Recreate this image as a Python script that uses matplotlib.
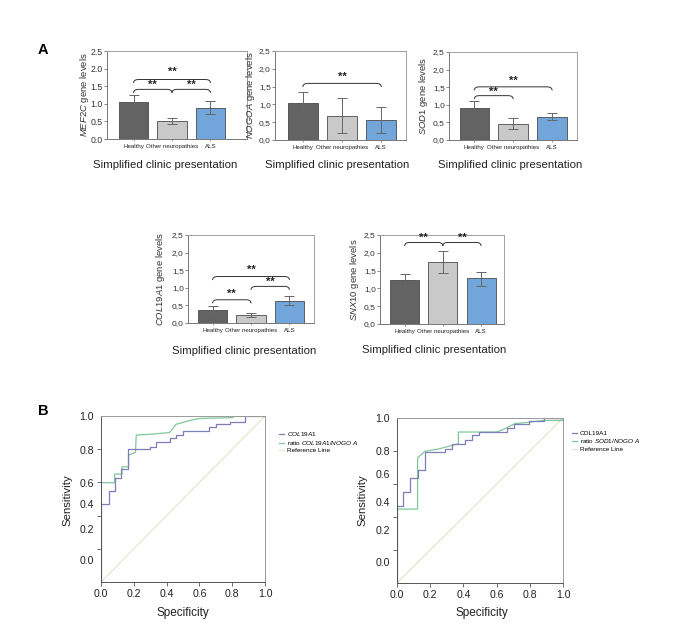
import matplotlib
matplotlib.use("Agg")
import matplotlib.pyplot as plt
from matplotlib.path import Path
from matplotlib.patches import PathPatch

plt.rcParams['font.family'] = ['Liberation Sans', 'DejaVu Sans']
plt.rcParams['mathtext.fontset'] = 'custom'
plt.rcParams['mathtext.it'] = 'Liberation Sans:italic'
plt.rcParams['mathtext.rm'] = 'Liberation Sans'

# ---------------- data ----------------
groups = ["Healthy", "Other neuropathies", "ALS"]
bar_colors = ["#636363", "#c9c9c9", "#72a5d9"]

genes = ["MEF2C", "NOGOA", "SOD1", "COL19A1", "SNX10"]
means = {
    "MEF2C":   [1.05, 0.52, 0.88],
    "NOGOA":   [1.04, 0.68, 0.56],
    "SOD1":    [0.92, 0.46, 0.66],
    "COL19A1": [0.38, 0.22, 0.63],
    "SNX10":   [1.24, 1.74, 1.29],
}
err_lo = {
    "MEF2C":   [0.88, 0.43, 0.70],
    "NOGOA":   [0.75, 0.20, 0.20],
    "SOD1":    [0.75, 0.32, 0.56],
    "COL19A1": [0.28, 0.16, 0.50],
    "SNX10":   [1.07, 1.42, 1.08],
}
err_hi = {
    "MEF2C":   [1.24, 0.61, 1.07],
    "NOGOA":   [1.35, 1.18, 0.93],
    "SOD1":    [1.10, 0.63, 0.78],
    "COL19A1": [0.48, 0.27, 0.77],
    "SNX10":   [1.40, 2.06, 1.47],
}
# significance brackets: (group i, group j, level, star level)
brackets = {
    "MEF2C":   [(0, 1, 1.41, 1.55), (1, 2, 1.41, 1.55), (0, 2, 1.69, 1.91)],
    "NOGOA":   [(0, 2, 1.59, 1.77)],
    "SOD1":    [(0, 1, 1.26, 1.38), (0, 2, 1.51, 1.67)],
    "COL19A1": [(0, 1, 0.66, 0.83), (1, 2, 1.04, 1.18), (0, 2, 1.32, 1.51)],
    "SNX10":   [(0, 1, 2.29, 2.41), (1, 2, 2.29, 2.41)],
}
yticks_bar = [0.0, 0.5, 1.0, 1.5, 2.0, 2.5]
yticklabels_dot = ["0.0", "0.5", "1.0", "1.5", "2.0", "2.5"]
yticklabels_comma = ["0,0", "0,5", "1,0", "1,5", "2,0", "2,5"]

# ROC curves (vertices: x = specificity axis value, y = sensitivity)
roc1_a_x = [0, 0, 0.047, 0.047, 0.083, 0.083, 0.124, 0.124, 0.164, 0.164, 0.296, 0.296,
            0.337, 0.337, 0.418, 0.418, 0.458, 0.458, 0.5, 0.5, 0.66, 0.66, 0.70, 0.70,
            0.787, 0.787, 0.878, 0.878, 1.0]
roc1_a_y = [0, 0.467, 0.467, 0.547, 0.547, 0.628, 0.628, 0.68, 0.68, 0.80, 0.80, 0.815,
            0.815, 0.845, 0.845, 0.865, 0.865, 0.885, 0.885, 0.91, 0.91, 0.935, 0.935, 0.95,
            0.95, 0.965, 0.965, 1.0, 1.0]
roc1_b_x = [0, 0, 0.083, 0.083, 0.128, 0.128, 0.168, 0.168, 0.21, 0.215, 0.30, 0.418,
            0.458, 0.55, 0.60, 0.80, 0.82, 1.0]
roc1_b_y = [0, 0.598, 0.598, 0.65, 0.65, 0.694, 0.694, 0.765, 0.78, 0.885, 0.89, 0.90,
            0.95, 0.975, 0.985, 0.99, 1.0, 1.0]
roc2_a_x = [0, 0, 0.036, 0.036, 0.08, 0.08, 0.124, 0.124, 0.167, 0.167, 0.291, 0.291,
            0.331, 0.331, 0.412, 0.412, 0.452, 0.452, 0.492, 0.492, 0.663, 0.663, 0.703,
            0.703, 0.793, 0.793, 0.884, 0.884, 1.0]
roc2_a_y = [0, 0.465, 0.465, 0.55, 0.55, 0.636, 0.636, 0.687, 0.687, 0.794, 0.794, 0.812,
            0.812, 0.844, 0.844, 0.865, 0.865, 0.90, 0.90, 0.915, 0.915, 0.94, 0.94, 0.966,
            0.966, 0.98, 0.98, 1.0, 1.0]
roc2_b_x = [0, 0, 0.124, 0.124, 0.167, 0.25, 0.37, 0.37, 0.60, 0.64, 0.71, 0.80, 0.88,
            1.0, 1.0]
roc2_b_y = [0, 0.448, 0.448, 0.758, 0.798, 0.812, 0.844, 0.915, 0.915, 0.93, 0.966, 0.975,
            0.985, 0.985, 1.0]
roc_xticks = [0.0, 0.2, 0.4, 0.6, 0.8, 1.0]
roc_ylabels = ["0.0", "0.2", "0.4", "0.6", "0.8", "1.0"]
roc1_ylabel_pos = [0.131, 0.322, 0.467, 0.598, 0.795, 1.0]
roc2_ylabel_pos = [0.127, 0.319, 0.489, 0.663, 0.798, 1.0]

# ---------------- figure ----------------
W, H = 675, 632
fig = plt.figure(figsize=(W / 100, H / 100), dpi=100)


def axes_px(x0, y0, x1, y1):
    return fig.add_axes([x0 / W, 1 - y1 / H, (x1 - x0) / W, (y1 - y0) / H])


def bracket(ax, x1, x2, y, h=0.1, dx=0.13):
    verts = [(x1, y - h), (x1, y), (x1 + dx, y), (x2 - dx, y), (x2, y), (x2, y - h)]
    codes = [Path.MOVETO, Path.CURVE3, Path.CURVE3, Path.LINETO, Path.CURVE3, Path.CURVE3]
    ax.add_patch(PathPatch(Path(verts, codes), fill=False, lw=0.7, color="#333333"))


bar_layout = {
    "MEF2C":   ((107, 51, 247, 139), (-0.69, 2.95), -0.115, 165, 165),
    "NOGOA":   ((275, 51, 406, 140), (-0.71, 2.63), -0.137, 337, 165),
    "SOD1":    ((449, 52, 577, 140), (-0.65, 2.64), -0.148, 510, 165),
    "COL19A1": ((188, 235, 314, 323), (-0.64, 2.64), -0.167, 244, 351),
    "SNX10":   ((380, 235, 504, 324), (-0.645, 2.60), -0.153, 434, 350),
}

for g in genes:
    box, xl, ylx, xlab_x, xlab_y = bar_layout[g]
    ax = axes_px(*box)
    xs = [0, 1, 2]
    m = means[g]
    lo = [mm - l for mm, l in zip(m, err_lo[g])]
    hi = [h - mm for mm, h in zip(m, err_hi[g])]
    ax.bar(xs, m, width=0.76, color=bar_colors, edgecolor="#4a4a4a", linewidth=0.6)
    ax.errorbar(xs, m, yerr=[lo, hi], fmt="none", ecolor="#666666", elinewidth=0.7,
                capsize=3.5, capthick=0.7)
    for (i, j, lev, slev) in brackets[g]:
        bracket(ax, i, j, lev)
        ax.text((i + j) / 2, slev, "**", ha="center", va="center", fontsize=8,
                fontweight="bold", color="#222222")
    ax.set_xlim(*xl)
    ax.set_ylim(0, 2.5)
    ax.set_yticks(yticks_bar)
    ax.set_yticklabels(yticklabels_dot if g == "MEF2C" else yticklabels_comma)
    ax.set_xticks(xs)
    ax.set_xticklabels(groups)
    ax.tick_params(axis="y", labelsize=6.3 if g == "MEF2C" else 6, length=2, width=0.5,
                   pad=1, color="#555555", labelcolor="#333333")
    ax.tick_params(axis="x", labelsize=4.4, length=1.5, width=0.5, pad=2,
                   color="#777777", labelcolor="#222222")
    for s in ax.spines.values():
        s.set_color("#a0a0a0")
        s.set_linewidth(0.7)
    ax.spines["left"].set_color("#777777")
    ax.spines["bottom"].set_color("#777777")
    ax.set_ylabel(r"$\mathit{" + g + r"}$ gene levels", fontsize=6.8, color="#333333")
    ax.yaxis.set_label_coords(ylx, 0.5)
    fig.text(xlab_x / W, 1 - xlab_y / H, "Simplified clinic presentation",
             ha="center", va="center", fontsize=8.2, color="#222222")

fig.text(43 / W, 1 - 50 / H, "A", ha="center", va="center", fontsize=10.5,
         fontweight="bold")
fig.text(43 / W, 1 - 411 / H, "B", ha="center", va="center", fontsize=10.5,
         fontweight="bold")

# ---------------- ROC ----------------
roc_cfg = [
    ((101, 416, 265, 582), roc1_a_x, roc1_a_y, roc1_b_x, roc1_b_y, roc1_ylabel_pos,
     [r"$\mathit{COL19A1}$", r"ratio $\mathit{COL19A1/NOGO\ A}$", "Reference Line"],
     (279, 430), 183, 67),
    ((397, 418, 563, 583), roc2_a_x, roc2_a_y, roc2_b_x, roc2_b_y, roc2_ylabel_pos,
     ["COL19A1", r"ratio $\mathit{SOD1/NOGO\ A}$", "Reference Line"],
     (572, 431), 482, 362),
]
blue = "#7d7db8"
green = "#80c79a"
refc = "#e9e4cc"

for box, ax_x, ax_y, bx, by, ylpos, labels, legpos, xlabx, ylabx in roc_cfg:
    ax = axes_px(*box)
    l3, = ax.plot([0, 1], [0, 1], color=refc, lw=0.9)
    l2, = ax.plot(bx, by, color=green, lw=0.9)
    l1, = ax.plot(ax_x, ax_y, color=blue, lw=0.9)
    ax.set_xlim(0, 1)
    ax.set_ylim(0, 1)
    ax.set_xticks(roc_xticks)
    ax.set_xticklabels([f"{v:.1f}" for v in roc_xticks])
    ax.set_yticks(ylpos)
    ax.set_yticklabels(roc_ylabels)
    ax.set_yticks([0.2, 0.4, 0.6, 0.8], minor=True)
    ax.tick_params(axis="y", which="major", length=0, pad=5, labelsize=7.6,
                   labelcolor="#222222")
    ax.tick_params(axis="y", which="minor", length=3, width=0.6, color="#555555")
    ax.tick_params(axis="x", labelsize=7.6, length=3, width=0.6, pad=2,
                   color="#555555", labelcolor="#222222")
    for s in ax.spines.values():
        s.set_color("#9a9a9a")
        s.set_linewidth(0.7)
    ax.spines["left"].set_color("#555555")
    ax.spines["bottom"].set_color("#555555")
    fig.text(xlabx / W, 1 - 613 / H, "Specificity", ha="center", va="center",
             fontsize=8.5, color="#222222")
    fig.text(ylabx / W, 1 - 500 / H, "Sensitivity", ha="center", va="center",
             rotation=90, fontsize=8.2, color="#222222")
    fig.legend([l1, l2, l3], labels, loc="upper left",
               bbox_to_anchor=(legpos[0] / W, 1 - legpos[1] / H),
               frameon=False, fontsize=4.6, handlelength=0.8, handletextpad=0.4,
               labelspacing=0.15, borderpad=0, borderaxespad=0)

fig.savefig("out.png", dpi=100)
